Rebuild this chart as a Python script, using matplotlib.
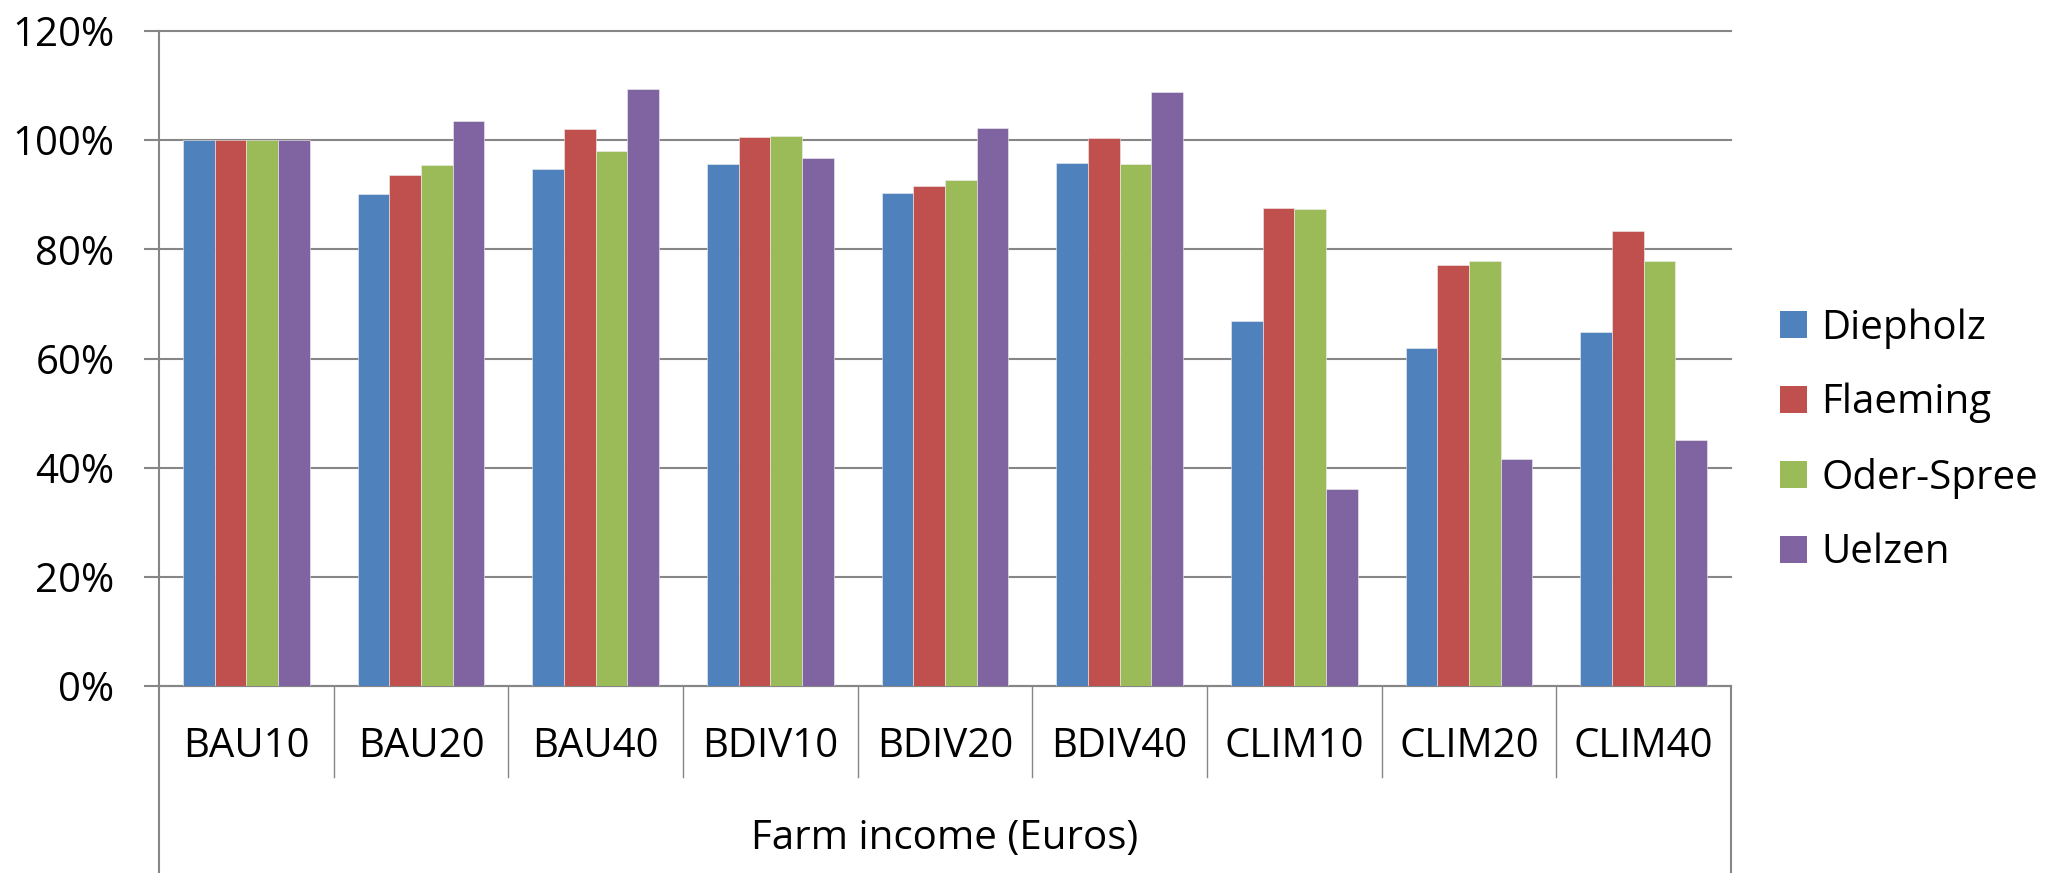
import numpy as np
import matplotlib
matplotlib.use("Agg")
import matplotlib.pyplot as plt
from matplotlib.patches import Patch

plt.rcParams['font.family'] = ['Open Sans', 'DejaVu Sans']

# data (% of BAU10)
scenarios = ['BAU10', 'BAU20', 'BAU40', 'BDIV10', 'BDIV20', 'BDIV40',
             'CLIM10', 'CLIM20', 'CLIM40']
regions = ['Diepholz', 'Flaeming', 'Oder-Spree', 'Uelzen']
diepholz = [100, 90.2, 94.7, 95.6, 90.3, 95.8, 66.9, 61.9, 64.9]
flaeming = [100, 93.7, 102.1, 100.5, 91.6, 100.4, 87.6, 77.2, 83.3]
oder_spree = [100, 95.4, 98.0, 100.7, 92.7, 95.6, 87.3, 77.8, 77.9]
uelzen = [100, 103.5, 109.4, 96.7, 102.3, 108.9, 36.1, 41.5, 45.0]
yticks = [0, 20, 40, 60, 80, 100, 120]

colors = ['#4F81BD', '#C0504D', '#9BBB59', '#8064A2']
grey = '#868686'
fs = 29

fig = plt.figure(figsize=(20.49, 8.73), dpi=100)
ax = fig.add_axes([159 / 2049, 187 / 873, 1572 / 2049, 655 / 873])

x = np.arange(len(scenarios))
w = 0.181
for i, vals in enumerate([diepholz, flaeming, oder_spree, uelzen]):
    ax.bar(x + (i - 1.5) * w, vals, w, color=colors[i],
           edgecolor='#f0f0f0', linewidth=0.4, zorder=3, label=regions[i])

ax.set_xlim(-0.5, len(scenarios) - 0.5)
ax.set_ylim(0, 120)
ax.set_yticks(yticks)
ax.set_yticklabels([f'{t}%' for t in yticks])
ax.tick_params(axis='y', length=11, width=1.5, color=grey, pad=21, labelsize=fs)
ax.yaxis.grid(True, color=grey, linewidth=1.5, zorder=0)
for gl in ax.get_ygridlines():
    gl.set_clip_on(False)
ax.set_axisbelow(True)

ax.set_xticks(x)
ax.set_xticklabels(scenarios)
ax.tick_params(axis='x', length=0, pad=44, labelsize=fs)
plt.setp(ax.get_xticklabels(), va='center')

ax.set_xlabel('Farm income (Euros)', fontsize=fs, va='center')
ax.xaxis.set_label_coords(0.5, -153 / 655)

for s in ['top', 'right']:
    ax.spines[s].set_visible(False)
for s in ['left', 'bottom']:
    ax.spines[s].set_color(grey)
    ax.spines[s].set_linewidth(1.5)

# category separators below the axis
trans = ax.get_xaxis_transform()
for b in np.arange(len(scenarios) + 1) - 0.5:
    outer = b < 0 or b > len(scenarios) - 1
    ax.plot([b, b], [0, -0.3 if outer else -91 / 655], color=grey,
            linewidth=1.0 if not outer else 1.5, transform=trans, clip_on=False)

handles = [Patch(facecolor=c, label=r) for c, r in zip(colors, regions)]
fig.legend(handles=handles, loc='center left', bbox_to_anchor=(1780 / 2049, 0.495),
           frameon=False, fontsize=fs, handlelength=0.67, handleheight=0.67,
           handletextpad=0.36, labelspacing=0.85, borderpad=0, borderaxespad=0)

fig.savefig('out.png', dpi=100)
